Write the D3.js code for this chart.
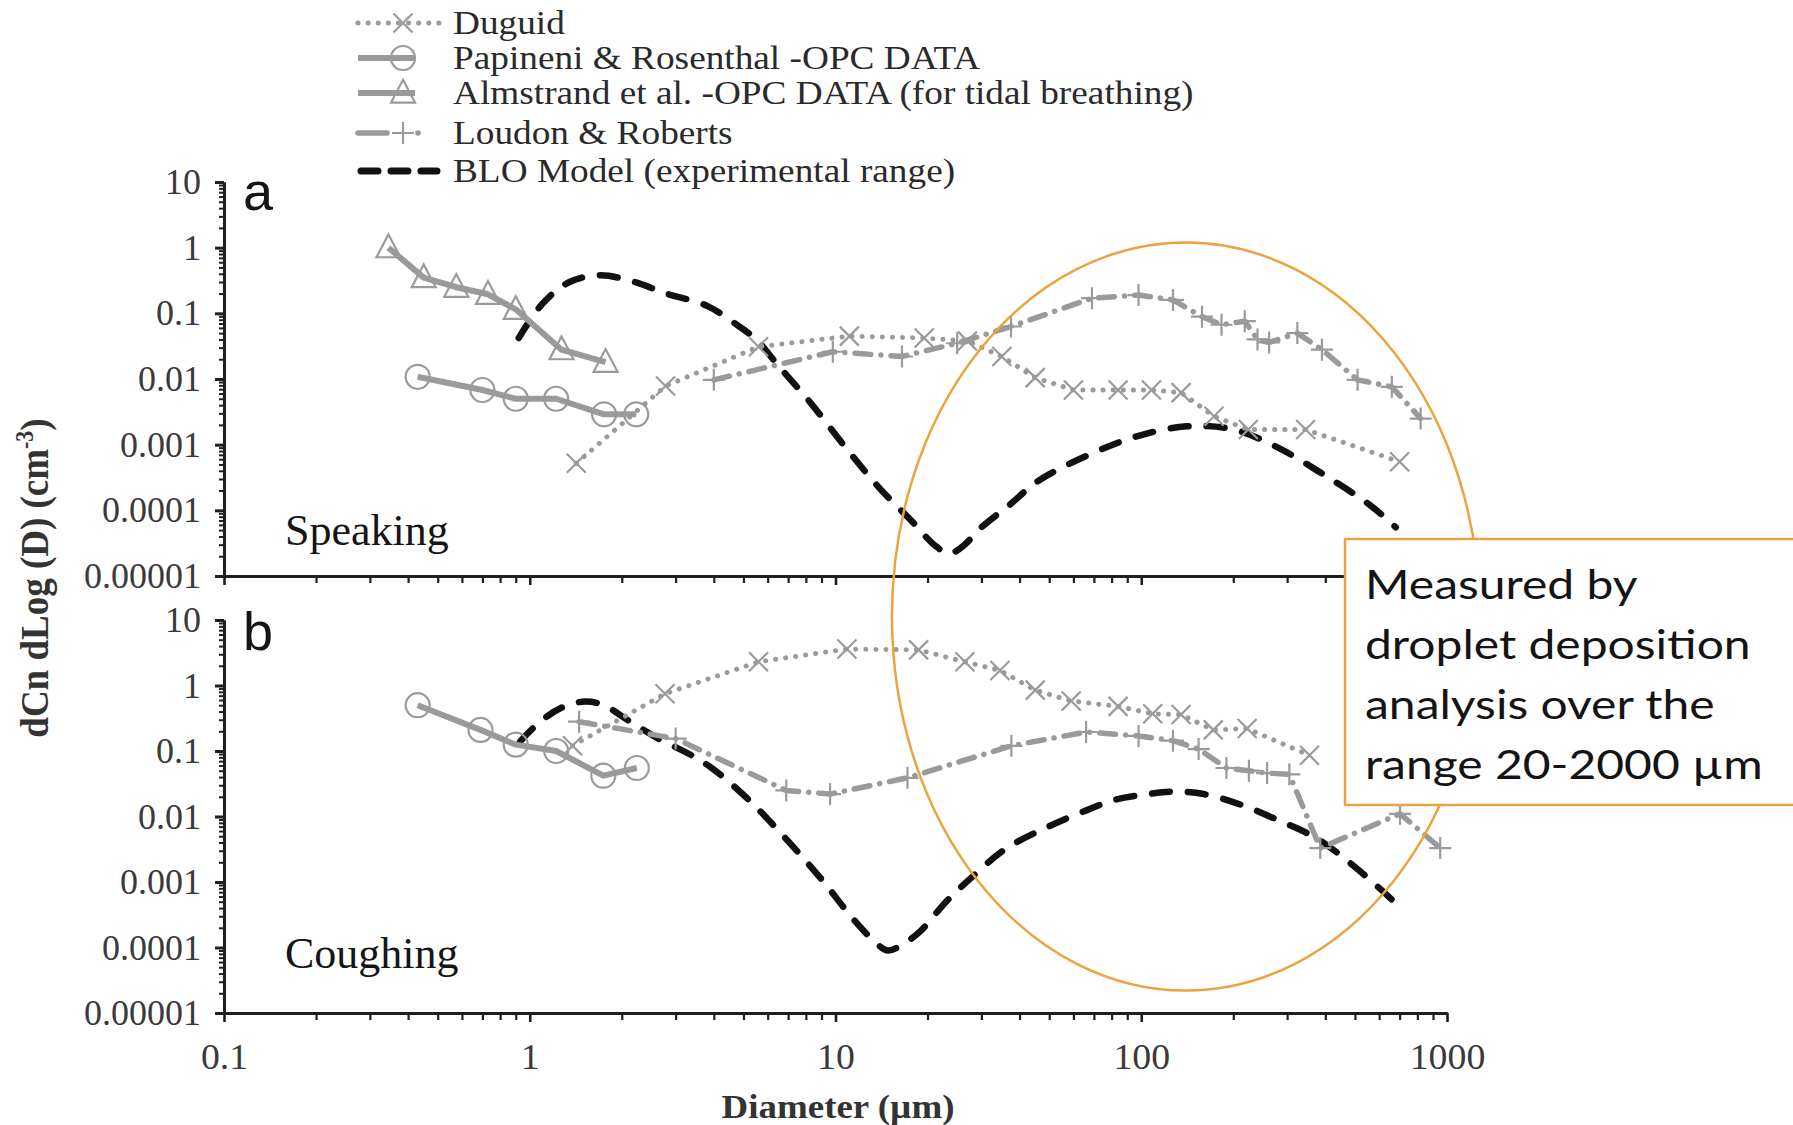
<!DOCTYPE html>
<html>
<head>
<meta charset="utf-8">
<script src="https://cdn.jsdelivr.net/npm/d3@7"></script>
<style>
  body { margin: 0; background: #fff; }
  svg { display: block; }
</style>
</head>
<body>
<svg id="chart" width="1793" height="1125"></svg>
<script>
// ---------- data: droplet size distributions (dCn/dLog(D), cm^-3) ----------
const xTickValues = [0.1, 1, 10, 100, 1000];
const xTickLabels = ["0.1", "1", "10", "100", "1000"];
const yTickValues = [1e-5, 1e-4, 1e-3, 1e-2, 1e-1, 1, 10];
const yTickLabels = ["0.00001", "0.0001", "0.001", "0.01", "0.1", "1", "10"];

const legendLabels = [
  "Duguid",
  "Papineni & Rosenthal -OPC DATA",
  "Almstrand et al. -OPC DATA (for tidal breathing)",
  "Loudon & Roberts",
  "BLO Model (experimental range)"
];

// (a) speaking
const duguidSpeakD = [1.42, 2.78, 5.6, 11.1, 19.5, 27, 35, 45, 60, 84, 108, 135, 173, 224, 345, 700];
const duguidSpeakV = [0.00052, 0.0078, 0.031, 0.045, 0.042, 0.038, 0.022, 0.0105, 0.0068, 0.0068, 0.0068, 0.0062, 0.0027, 0.0017, 0.0017, 0.00055];
const papineniSpeakD = [0.43, 0.70, 0.90, 1.22, 1.75, 2.23];
const papineniSpeakV = [0.0108, 0.0068, 0.0050, 0.0050, 0.0029, 0.0029];
const almstrandSpeakD = [0.345, 0.45, 0.575, 0.73, 0.90, 1.27, 1.77];
const almstrandSpeakV = [1.0, 0.35, 0.25, 0.195, 0.115, 0.028, 0.018];
const loudonSpeakD = [4.0, 9.8, 16.5, 25, 37.5, 69, 98, 127, 158, 183, 218, 240, 262, 324, 390, 510, 660, 820];
const loudonSpeakV = [0.0097, 0.026, 0.022, 0.035, 0.063, 0.17, 0.19, 0.16, 0.089, 0.067, 0.076, 0.040, 0.036, 0.050, 0.028, 0.0097, 0.0076, 0.0025];
const bloSpeakD = [0.92, 1.1, 1.35, 1.7, 2.2, 2.8, 3.8, 4.8, 5.5, 6.5, 8.3, 10.8, 13.9, 17.9, 21, 23.5, 26, 30, 37, 46, 71, 100, 141, 200, 280, 395, 560, 680];
const bloSpeakV = [0.042, 0.14, 0.3, 0.38, 0.3, 0.2, 0.13, 0.065, 0.04, 0.016, 0.0043, 0.0009, 0.00022, 0.000066, 0.00003, 0.000022, 0.000028, 0.000055, 0.00012, 0.00028, 0.00078, 0.0014, 0.0019, 0.0017, 0.0009, 0.00035, 0.00012, 0.000055];

// (b) coughing
const duguidCoughD = [1.38, 2.77, 5.6, 10.9, 18.7, 26.5, 34.5, 45, 59, 84, 109, 135, 172, 222, 355];
const duguidCoughV = [0.12, 0.75, 2.3, 3.6, 3.5, 2.3, 1.7, 0.85, 0.58, 0.48, 0.37, 0.36, 0.21, 0.22, 0.086];
const papineniCoughD = [0.43, 0.69, 0.90, 1.22, 1.74, 2.24];
const papineniCoughV = [0.5, 0.21, 0.125, 0.10, 0.042, 0.055];
const loudonCoughD = [1.45, 3.0, 6.9, 9.6, 17.2, 37.6, 66, 98, 127, 154, 190, 225, 258, 305, 385, 702, 950];
const loudonCoughV = [0.28, 0.155, 0.025, 0.022, 0.039, 0.12, 0.195, 0.17, 0.144, 0.107, 0.055, 0.05, 0.046, 0.044, 0.0033, 0.011, 0.0033];
const bloCoughD = [0.93, 1.1, 1.3, 1.52, 1.75, 2.06, 2.6, 3.4, 4.0, 5.2, 7.0, 9.0, 11.3, 13.5, 14.8, 16.5, 19, 23, 28, 36, 49, 65, 82, 105, 127, 160, 213, 280, 373, 500, 660];
const bloCoughV = [0.14, 0.3, 0.48, 0.57, 0.5, 0.31, 0.16, 0.085, 0.052, 0.018, 0.0042, 0.0011, 0.00029, 0.00012, 0.00009, 0.00011, 0.00018, 0.0005, 0.0012, 0.0032, 0.0068, 0.012, 0.018, 0.022, 0.024, 0.022, 0.015, 0.0088, 0.0047, 0.0017, 0.00054];

// highlighted deposition-analysis region (diameter span, value at top in (a), value at bottom in (b))
const regionD = [15.3, 1280];
const regionTopV = 1.2;
const regionBottomV = 0.000022;
const noteLines = ["Measured by", "droplet deposition", "analysis over the", "range 20-2000 \u00b5m"];

// ---------- helpers ----------
const zip = (a, b) => a.map((d, i) => [d, b[i]]);
const svg = d3.select("#chart");
const GRAY = "#9a9a9a";
const INK = "#1e1e1e";
const ORANGE = "#e9a43f";
const SERIF = "'Liberation Serif', 'Times New Roman', serif";

const x = d3.scaleLog().domain([0.1, 1000]).range([224, 1447]);

const styles = {
  duguid:    { stroke: GRAY, width: 5, dash: "0.1,10", cap: "round", marker: "x" },
  papineni:  { stroke: GRAY, width: 6, dash: null, cap: "butt", marker: "circle" },
  almstrand: { stroke: GRAY, width: 6, dash: null, cap: "butt", marker: "tri" },
  loudon:    { stroke: GRAY, width: 5.5, dash: "16,10,0.1,10", cap: "round", marker: "plus" },
  blo:       { stroke: "#111", width: 6.5, dash: "18,18", cap: "round", marker: null }
};

function markerPath(kind) {
  if (kind === "x") { const s = 9.5; return `M${-s},${-s}L${s},${s}M${-s},${s}L${s},${-s}`; }
  if (kind === "plus") { const s = 11; return `M${-s},0H${s}M0,${-s}V${s}`; }
  if (kind === "tri") { const s = 12; return `M0,${-s * 1.1}L${s},${s * 0.8}L${-s},${s * 0.8}Z`; }
  if (kind === "circle") { const r = 12; return `M${r},0A${r},${r} 0 1,1 ${-r},0A${r},${r} 0 1,1 ${r},0Z`; }
  return "";
}

function drawSeries(g, y, pts, st, curve) {
  const line = d3.line().x(d => x(d[0])).y(d => y(d[1])).curve(curve || d3.curveLinear);
  g.append("path")
    .attr("d", line(pts))
    .attr("fill", "none")
    .attr("stroke", st.stroke)
    .attr("stroke-width", st.width)
    .attr("stroke-linecap", st.cap)
    .attr("stroke-linejoin", "round")
    .attr("stroke-dasharray", st.dash);
  if (st.marker) {
    g.selectAll(null).data(pts).enter().append("path")
      .attr("transform", d => `translate(${x(d[0])},${y(d[1])})`)
      .attr("d", markerPath(st.marker))
      .attr("fill", "none")
      .attr("stroke", st.stroke)
      .attr("stroke-width", 2.2);
  }
}

const minorOf = (lo, hi) => {
  const out = [];
  for (let e = Math.log10(lo); e < Math.log10(hi); e++) {
    for (let m = 2; m <= 9; m++) out.push(m * Math.pow(10, e));
  }
  return out;
};

function styleAxis(g, w) {
  g.select(".domain").attr("stroke", INK).attr("stroke-width", 3);
  g.selectAll(".tick line").attr("stroke", INK).attr("stroke-width", w);
}

// ---------- panels ----------
const panels = [
  {
    y: d3.scaleLog().domain([1e-5, 10]).range([576, 182]),
    letter: "a", letterBase: 210, title: "Speaking", titleBase: 545, xLabels: false,
    series: [
      ["blo", zip(bloSpeakD, bloSpeakV)],
      ["papineni", zip(papineniSpeakD, papineniSpeakV)],
      ["almstrand", zip(almstrandSpeakD, almstrandSpeakV)],
      ["loudon", zip(loudonSpeakD, loudonSpeakV)],
      ["duguid", zip(duguidSpeakD, duguidSpeakV)]
    ]
  },
  {
    y: d3.scaleLog().domain([1e-5, 10]).range([1013, 620]),
    letter: "b", letterBase: 650, title: "Coughing", titleBase: 968, xLabels: true,
    series: [
      ["blo", zip(bloCoughD, bloCoughV)],
      ["papineni", zip(papineniCoughD, papineniCoughV)],
      ["loudon", zip(loudonCoughD, loudonCoughV)],
      ["duguid", zip(duguidCoughD, duguidCoughV)]
    ]
  }
];

panels.forEach(p => {
  const y = p.y;
  const g = svg.append("g");

  // x axis (minor then major)
  const xMinor = g.append("g").attr("transform", `translate(0,${y(1e-5)})`)
    .call(d3.axisBottom(x).tickValues(minorOf(0.1, 1000)).tickSize(7).tickSizeOuter(0).tickFormat(""));
  styleAxis(xMinor, 2.2);
  const xMajor = g.append("g").attr("transform", `translate(0,${y(1e-5)})`)
    .call(d3.axisBottom(x).tickValues(xTickValues).tickSize(9).tickSizeOuter(0).tickPadding(21)
      .tickFormat((d, i) => p.xLabels ? xTickLabels[i] : ""));
  styleAxis(xMajor, 2.6);
  xMajor.selectAll(".tick text")
    .attr("font-family", SERIF).attr("font-size", 36).attr("fill", "#3a3a3a")
    .attr("transform", "scale(1.05,1)");

  // y axis (minor then major)
  const yMinor = g.append("g").attr("transform", `translate(${x(0.1)},0)`)
    .call(d3.axisLeft(y).tickValues(minorOf(1e-5, 10)).tickSize(5).tickSizeOuter(0).tickFormat(""));
  styleAxis(yMinor, 2);
  const yMajor = g.append("g").attr("transform", `translate(${x(0.1)},0)`)
    .call(d3.axisLeft(y).tickValues(yTickValues).tickSize(9).tickSizeOuter(0).tickPadding(14)
      .tickFormat((d, i) => yTickLabels[i]));
  styleAxis(yMajor, 3);
  yMajor.selectAll(".tick text")
    .attr("font-family", SERIF).attr("font-size", 36).attr("fill", "#3a3a3a");

  // series
  p.series.forEach(([key, pts]) => {
    drawSeries(g, y, pts, styles[key], key === "blo" ? d3.curveCatmullRom.alpha(0.5) : null);
  });

  // panel letter and condition label
  g.append("text").attr("x", 243).attr("y", p.letterBase)
    .attr("font-family", "'Liberation Sans', Arial, sans-serif").attr("font-size", 54).attr("fill", "#151515")
    .text(p.letter);
  g.append("text").attr("x", 285).attr("y", p.titleBase)
    .attr("font-family", SERIF).attr("font-size", 44).attr("fill", "#151515")
    .text(p.title);
});

// ---------- axis titles ----------
svg.append("text")
  .attr("transform", "translate(838,1118) scale(1.12,1)")
  .attr("text-anchor", "middle")
  .attr("font-family", SERIF).attr("font-weight", "bold").attr("font-size", 33).attr("fill", "#333")
  .text("Diameter (\u00b5m)");

const yTitle = svg.append("text")
  .attr("transform", "translate(48,578) scale(1.1,1) rotate(-90)")
  .attr("text-anchor", "middle")
  .attr("font-family", SERIF).attr("font-weight", "bold").attr("font-size", 37).attr("fill", "#333");
yTitle.append("tspan").text("dCn dLog (D) (cm");
yTitle.append("tspan").attr("font-size", 22).attr("dy", -14).text("-3");
yTitle.append("tspan").attr("dy", 14).text(")");

// ---------- legend ----------
const legendKeys = ["duguid", "papineni", "almstrand", "loudon", "blo"];
const legendRows = [23, 58, 93, 133, 171];
const legend = svg.append("g");
legendKeys.forEach((k, i) => {
  const cy = legendRows[i];
  const st = styles[k];
  const row = legend.append("g");
  let x0 = 358, x1 = 440;
  let dash = st.dash, cap = st.cap, w = st.width;
  if (k === "papineni" || k === "almstrand") { x1 = 415; }
  if (k === "loudon") { x1 = 387; dash = null; }
  if (k === "blo") { x0 = 361; x1 = 437; dash = "17,13"; w = 7; }
  row.append("line").attr("x1", x0).attr("x2", x1).attr("y1", cy).attr("y2", cy)
    .attr("stroke", st.stroke).attr("stroke-width", w).attr("stroke-linecap", cap)
    .attr("stroke-dasharray", dash);
  if (k === "loudon") {
    row.append("circle").attr("cx", 418).attr("cy", cy).attr("r", 2.8).attr("fill", st.stroke);
  }
  if (st.marker) {
    row.append("path").attr("transform", `translate(403,${cy})`)
      .attr("d", markerPath(st.marker)).attr("fill", "none")
      .attr("stroke", st.stroke).attr("stroke-width", 2.2);
  }
  row.append("text")
    .attr("transform", `translate(453,${cy + 11}) scale(1.13,1)`)
    .attr("font-family", SERIF).attr("font-size", 33).attr("fill", "#2a2a2a")
    .text(legendLabels[i]);
});

// ---------- highlighted region and note ----------
const yTop = panels[0].y, yBot = panels[1].y;
const ex0 = x(regionD[0]), ex1 = x(regionD[1]);
const ey0 = yTop(regionTopV), ey1 = yBot(regionBottomV);
svg.append("ellipse")
  .attr("cx", (ex0 + ex1) / 2).attr("cy", (ey0 + ey1) / 2)
  .attr("rx", (ex1 - ex0) / 2).attr("ry", (ey1 - ey0) / 2)
  .attr("fill", "none").attr("stroke", ORANGE).attr("stroke-width", 2.5);

const note = svg.append("g");
note.append("rect").attr("x", 1345).attr("y", 539).attr("width", 470).attr("height", 266)
  .attr("fill", "#fff").attr("stroke", ORANGE).attr("stroke-width", 2.5);
noteLines.forEach((t, i) => {
  note.append("text")
    .attr("transform", `translate(1365,${599 + i * 60}) scale(1.2,1)`)
    .attr("font-family", "Lato, 'Open Sans', sans-serif").attr("font-size", 40).attr("fill", "#141414")
    .text(t);
});
</script>
</body>
</html>
